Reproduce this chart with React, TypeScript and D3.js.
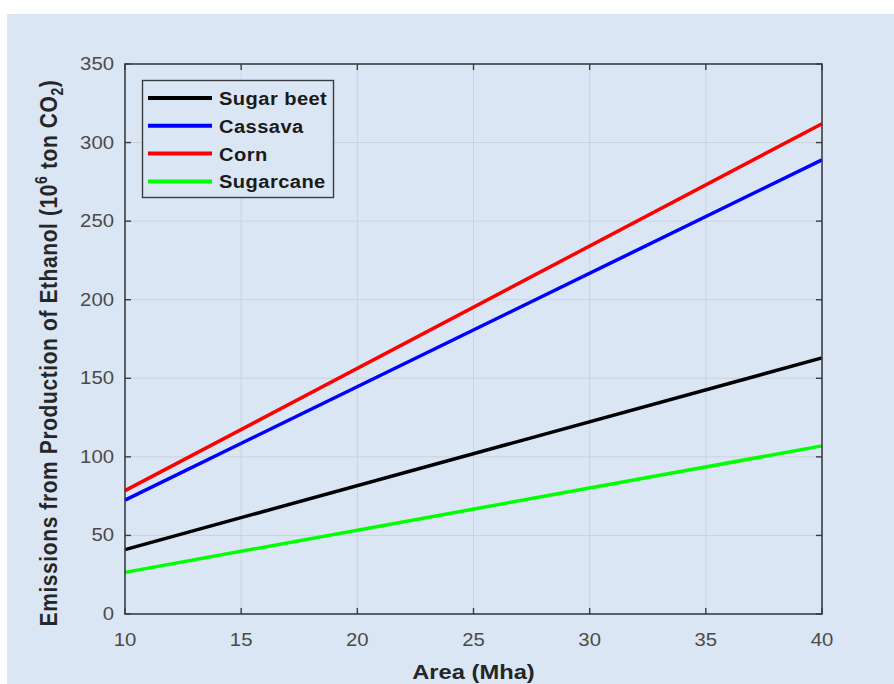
import React from "react";
import * as d3 from "d3";

// values (Mha -> 10^6 ton CO2)
const areas = [10, 40];
const seriesNames = ["Sugar beet", "Cassava", "Corn", "Sugarcane"];
const sugarBeet = [41, 163];
const cassava = [72.5, 289];
const corn = [78.5, 312];
const sugarcane = [26.5, 107];
const colors = ["#000000", "#0000ff", "#ff0000", "#00ff00"];
const xTicks = [10, 15, 20, 25, 30, 35, 40];
const yTicks = [0, 50, 100, 150, 200, 250, 300, 350];

const W = 894;
const H = 684;
const margin = { top: 64, right: 72, bottom: 70, left: 125 };
const FONT = "'Liberation Sans', Arial, sans-serif";
const SX = 1.13; // the source picture is a bit stretched sideways

export default function App() {
  const x = d3.scaleLinear().domain([10, 40]).range([margin.left, W - margin.right]);
  const y = d3.scaleLinear().domain([0, 350]).range([H - margin.bottom, margin.top]);

  const series = [sugarBeet, cassava, corn, sugarcane];
  const line = d3
    .line<number>()
    .x((d, i) => x(areas[i]))
    .y((d) => y(d));

  const x0 = x(10), x1 = x(40), y0 = y(0), y1 = y(350);
  const tick = 6;
  const axisColor = "#3a3d42";
  const tickColor = "#4a4a4a";

  return (
    <svg
      width={W}
      height={H}
      style={{ position: "absolute", left: 0, top: 0 }}
      fontFamily={FONT}
    >
      <rect x={0} y={0} width={W} height={H} fill="#ffffff" />
      <rect x={7} y={14} width={W - 7} height={H - 14} fill="#dbe6f4" />

      {/* grid */}
      <g stroke="#cdd2d9" strokeWidth={1}>
        {xTicks.slice(1, -1).map((t) => (
          <line key={"gx" + t} x1={x(t)} x2={x(t)} y1={y1} y2={y0} />
        ))}
        {yTicks.slice(1, -1).map((t) => (
          <line key={"gy" + t} x1={x0} x2={x1} y1={y(t)} y2={y(t)} />
        ))}
      </g>

      {/* series */}
      {series.map((s, i) => (
        <path
          key={seriesNames[i]}
          d={line(s) || ""}
          fill="none"
          stroke={colors[i]}
          strokeWidth={3.5}
        />
      ))}

      {/* box + inward ticks */}
      <rect x={x0} y={y1} width={x1 - x0} height={y0 - y1} fill="none" stroke={axisColor} strokeWidth={1.6} />
      <g stroke={axisColor} strokeWidth={1.4}>
        {xTicks.map((t) => (
          <g key={"tx" + t}>
            <line x1={x(t)} x2={x(t)} y1={y0} y2={y0 - tick} />
            <line x1={x(t)} x2={x(t)} y1={y1} y2={y1 + tick} />
          </g>
        ))}
        {yTicks.map((t) => (
          <g key={"ty" + t}>
            <line x1={x0} x2={x0 + tick} y1={y(t)} y2={y(t)} />
            <line x1={x1} x2={x1 - tick} y1={y(t)} y2={y(t)} />
          </g>
        ))}
      </g>

      {/* tick labels */}
      <g fill={tickColor} fontSize={18}>
        {xTicks.map((t) => (
          <text key={"lx" + t} transform={`translate(${x(t)},${y0 + 32}) scale(${SX},1)`} textAnchor="middle">
            {t}
          </text>
        ))}
        {yTicks.map((t) => (
          <text key={"ly" + t} transform={`translate(${x0 - 11},${y(t) + 6}) scale(${SX},1)`} textAnchor="end">
            {t}
          </text>
        ))}
      </g>

      {/* axis titles */}
      <text
        transform={`translate(${(x0 + x1) / 2},${H - 5}) scale(${SX},1)`}
        textAnchor="middle"
        fontWeight="bold"
        fontSize={21}
        fill="#262626"
      >
        Area (Mha)
      </text>
      <text
        transform={`translate(57,${(y0 + y1) / 2 + 14}) scale(${SX},1) rotate(-90)`}
        textAnchor="middle"
        fontWeight="bold"
        fontSize={21}
        letterSpacing={0.6}
        fill="#262626"
      >
        Emissions from Production of Ethanol (10
        <tspan fontSize={14} dy={-9}>6</tspan>
        <tspan dy={9}> ton CO</tspan>
        <tspan fontSize={14} dy={5}>2</tspan>
        <tspan dy={-5}>)</tspan>
      </text>

      {/* legend */}
      <g>
        <rect x={142.5} y={80.5} width={191} height={117} fill="#dbe6f4" stroke={axisColor} strokeWidth={1.4} />
        {seriesNames.map((n, i) => {
          const cy = 98 + i * 27.8;
          return (
            <g key={"lg" + n}>
              <line x1={148} x2={212} y1={cy} y2={cy} stroke={colors[i]} strokeWidth={4} />
              <text
                transform={`translate(219,${cy + 7}) scale(1.06,1)`}
                fontSize={19}
                fontWeight="bold"
                fill="#1a1a1a"
                letterSpacing={0.4}
              >
                {n}
              </text>
            </g>
          );
        })}
      </g>
    </svg>
  );
}
